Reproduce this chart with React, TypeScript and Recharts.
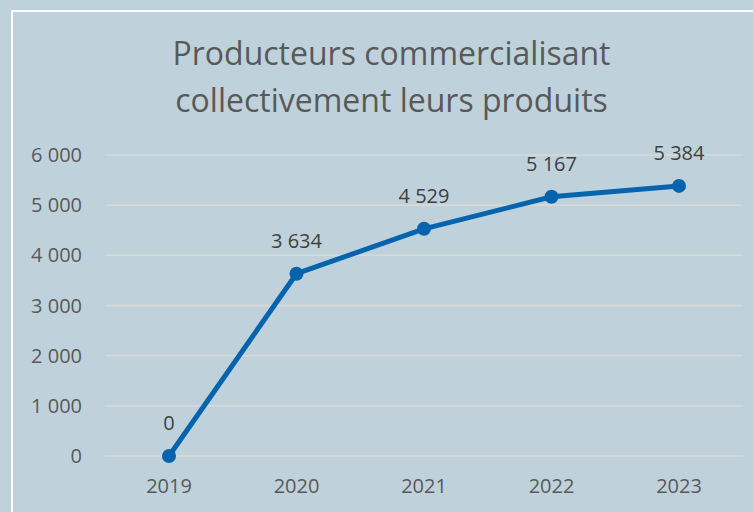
import { CartesianGrid, LabelList, Line, LineChart, XAxis, YAxis } from "recharts";

const years = ["2019", "2020", "2021", "2022", "2023"];
const producteurs = [0, 3634, 4529, 5167, 5384];
const yTicks = [0, 1000, 2000, 3000, 4000, 5000, 6000];

const data = years.map((year, i) => ({ year, value: producteurs[i] }));

const font = "'Open Sans', sans-serif";
const axisColor = "#595959";
const lineColor = "#0664ae";

// french thousands separator: "5 384"
const fmt = (v: number) => String(v).replace(/\B(?=(\d{3})+(?!\d))/g, " ");

export default function App() {
  return (
    <div
      style={{
        position: "fixed",
        left: 0,
        top: 0,
        width: 753,
        height: 512,
        background: "#bfd2dc",
        overflow: "hidden",
        fontFamily: font,
      }}
    >
      <div
        style={{
          position: "absolute",
          left: 11,
          top: 10,
          width: 800,
          height: 600,
          borderLeft: "2px solid #ffffff",
          borderTop: "2px solid #ffffff",
        }}
      />
      <div
        style={{
          position: "absolute",
          left: 0,
          top: 29,
          width: 783,
          textAlign: "center",
          color: axisColor,
          fontSize: 32,
          lineHeight: "47px",
        }}
      >
        Producteurs commercialisant
        <br />
        collectivement leurs produits
      </div>
      <div style={{ position: "absolute", left: 0, top: 0 }}>
        <LineChart
          width={753}
          height={512}
          data={data}
          margin={{ top: 155, right: 10, bottom: 26, left: 0 }}
        >
          <CartesianGrid vertical={false} stroke="#d9d9d9" strokeWidth={1.5} />
          <XAxis
            dataKey="year"
            axisLine={false}
            tickLine={false}
            tickSize={0}
            tickMargin={23}
            height={30}
            padding={{ left: 64, right: 64 }}
            tick={{ fill: axisColor, fontSize: 20, fontFamily: font }}
          />
          <YAxis
            width={105}
            domain={[0, 6000]}
            ticks={yTicks}
            axisLine={false}
            tickLine={false}
            tickSize={0}
            tickMargin={23}
            tickFormatter={fmt}
            tick={{ fill: axisColor, fontSize: 20, fontFamily: font }}
          />
          <Line
            type="linear"
            dataKey="value"
            stroke={lineColor}
            strokeWidth={5}
            dot={{ r: 7, fill: lineColor, stroke: lineColor, strokeWidth: 0 }}
            isAnimationActive={false}
          >
            <LabelList
              dataKey="value"
              position="top"
              offset={26}
              formatter={(v: any) => fmt(Number(v))}
              style={{ fill: "#404040", fontSize: 20, fontFamily: font }}
            />
          </Line>
        </LineChart>
      </div>
    </div>
  );
}
